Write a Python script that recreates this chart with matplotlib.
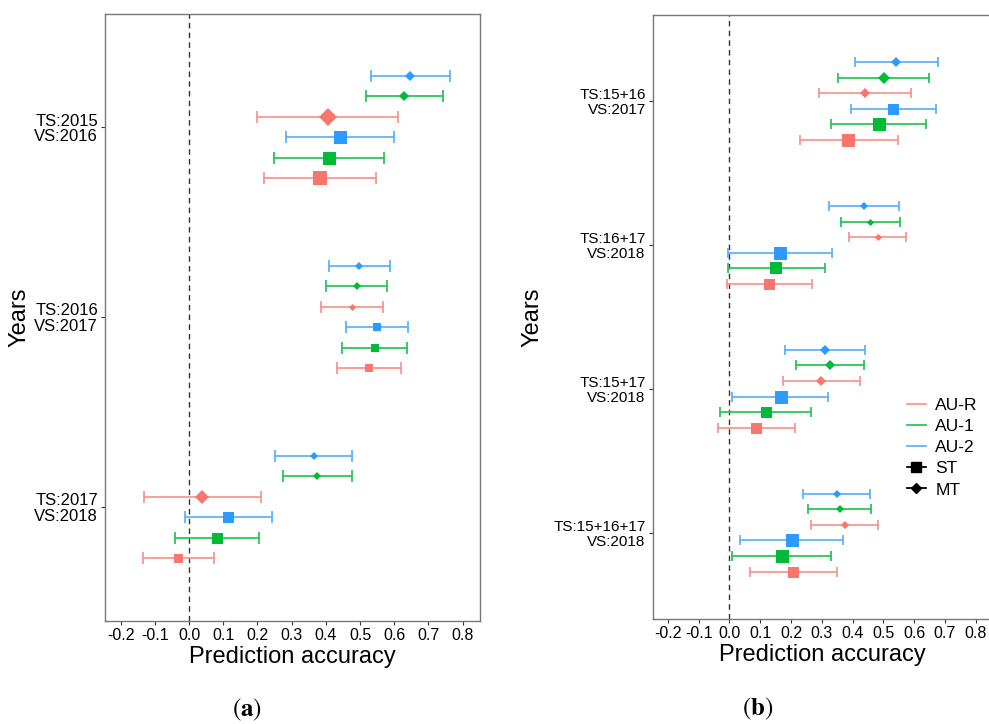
import numpy as np
import matplotlib.pyplot as plt
from matplotlib.lines import Line2D

plt.rcParams['font.family'] = ['Liberation Sans', 'DejaVu Sans']

# row order inside each group, top to bottom
row_type = ['MT', 'MT', 'MT', 'ST', 'ST', 'ST']
row_au = ['AU-2', 'AU-1', 'AU-R', 'AU-2', 'AU-1', 'AU-R']

# ---- panel (a) ----
labels_a = ['TS:2015\nVS:2016', 'TS:2016\nVS:2017', 'TS:2017\nVS:2018']
mean_a = [[0.647, 0.630, 0.406, 0.440, 0.408, 0.383],
          [0.497, 0.490, 0.476, 0.550, 0.543, 0.525],
          [0.365, 0.375, 0.039, 0.114, 0.081, -0.031]]
low_a = [[0.533, 0.517, 0.200, 0.284, 0.248, 0.219],
         [0.410, 0.400, 0.387, 0.459, 0.447, 0.432],
         [0.251, 0.274, -0.132, -0.013, -0.041, -0.136]]
high_a = [[0.762, 0.744, 0.612, 0.598, 0.571, 0.548],
          [0.587, 0.580, 0.566, 0.639, 0.636, 0.620],
          [0.478, 0.478, 0.211, 0.244, 0.204, 0.074]]
size_a = [[9.5, 9.5, 16.5, 13, 13, 14],
          [7, 7, 6.5, 8, 8, 8],
          [8, 8, 13.5, 11, 11, 9]]

# ---- panel (b) ----
labels_b = ['TS:15+16\nVS:2017', 'TS:16+17\nVS:2018', 'TS:15+17\nVS:2018', 'TS:15+16+17\nVS:2018']
mean_b = [[0.542, 0.501, 0.441, 0.533, 0.485, 0.386],
          [0.438, 0.458, 0.482, 0.164, 0.152, 0.128],
          [0.311, 0.327, 0.299, 0.166, 0.118, 0.088],
          [0.349, 0.358, 0.375, 0.204, 0.172, 0.208]]
low_b = [[0.409, 0.353, 0.292, 0.394, 0.330, 0.228],
         [0.324, 0.362, 0.389, -0.004, -0.003, -0.008],
         [0.182, 0.217, 0.173, 0.009, -0.030, -0.036],
         [0.238, 0.254, 0.265, 0.035, 0.010, 0.067]]
high_b = [[0.677, 0.647, 0.589, 0.671, 0.640, 0.547],
          [0.551, 0.554, 0.575, 0.332, 0.309, 0.267],
          [0.442, 0.436, 0.424, 0.321, 0.265, 0.213],
          [0.457, 0.461, 0.484, 0.370, 0.331, 0.349]]
size_b = [[9.5, 11.5, 9.5, 11, 13, 13],
          [7, 6.5, 6.5, 13, 12, 11],
          [9.5, 8.5, 8.5, 13, 11, 11],
          [7.5, 7.5, 7.5, 13, 13, 11]]

xticks = [-0.2, -0.1, 0.0, 0.1, 0.2, 0.3, 0.4, 0.5, 0.6, 0.7, 0.8]

col_pt = {'AU-R': '#F8766D', 'AU-1': '#00BA38', 'AU-2': '#2C9AFF'}
col_bar = {'AU-R': '#FA968F', 'AU-1': '#2CC65A', 'AU-2': '#62B2FF'}
mk = {'ST': 's', 'MT': 'D'}
dodge = 0.108
px2pt = 72 / 100


def draw_panel(ax, labels, mean, low, high, size, cap, fs_y):
    ng = len(labels)
    for g in range(ng):
        yc = ng - g
        for r in range(6):
            y = yc + (2.5 - r) * dodge
            au = row_au[r]
            ax.plot([low[g][r], high[g][r]], [y, y], color=col_bar[au], lw=1.3, zorder=2)
            ax.plot([low[g][r], high[g][r]], [y, y], ls='none', marker='|',
                    ms=cap, mew=1.3, color=col_bar[au], zorder=2)
            ms = size[g][r] * px2pt
            if mk[row_type[r]] == 'D':
                ms = ms / 1.3
            ax.plot(mean[g][r], y, marker=mk[row_type[r]], ms=ms, mew=0,
                    color=col_pt[au], ls='none', zorder=3)
    ax.axvline(0, color='#333333', ls=(0, (4, 3)), lw=1.0, zorder=1)
    ax.set_yticks(list(range(ng, 0, -1)))
    ax.set_yticklabels(labels, fontsize=fs_y, linespacing=1.05,
                       ha='right', multialignment='right')
    ax.set_xticks(xticks)
    ax.set_xticklabels(['%.1f' % v for v in xticks], fontsize=11.5)
    ax.set_ylim(0.4, ng + 0.595)
    ax.set_xlabel('Prediction accuracy', fontsize=17, labelpad=2)
    ax.set_ylabel('Years', fontsize=17)
    for s in ax.spines.values():
        s.set_color('#777777')
        s.set_linewidth(1.0)
    ax.tick_params(axis='both', length=3, width=0.8, color='#333333', pad=2)


fig = plt.figure(figsize=(9.89, 7.24), dpi=100)
ax1 = fig.add_axes([0.1062, 0.1423, 0.3792, 0.8384])
draw_panel(ax1, labels_a, mean_a, low_a, high_a, size_a, 9, 12)
ax1.set_xlim(-0.2456, 0.851)
ax1.yaxis.set_label_coords(-0.2, 0.5)

ax2 = fig.add_axes([0.66, 0.145, 0.3421, 0.8338])
draw_panel(ax2, labels_b, mean_b, low_b, high_b, size_b, 6.5, 11)
ax2.set_xlim(-0.249, 0.85)
ax2.yaxis.set_label_coords(-0.324, 0.5)

handles = [Line2D([], [], color=col_bar['AU-R'], lw=1.3),
           Line2D([], [], color=col_bar['AU-1'], lw=1.3),
           Line2D([], [], color=col_bar['AU-2'], lw=1.3),
           Line2D([], [], color='black', lw=1.3, marker='s', ms=7),
           Line2D([], [], color='black', lw=1.3, marker='D', ms=5)]
fig.legend(handles, ['AU-R', 'AU-1', 'AU-2', 'ST', 'MT'], loc='upper left',
           bbox_to_anchor=(0.908, 0.463), frameon=False, fontsize=12.5,
           handlelength=1.1, handletextpad=0.55, labelspacing=0.35, borderpad=0)

fig.text(0.25, 0.01, r'($\mathbf{a}$)', fontsize=18, family='STIXGeneral',
         math_fontfamily='stix', ha='center')
fig.text(0.766, 0.012, r'($\mathbf{b}$)', fontsize=18, family='STIXGeneral',
         math_fontfamily='stix', ha='center')

fig.savefig('out.png', dpi=100)
